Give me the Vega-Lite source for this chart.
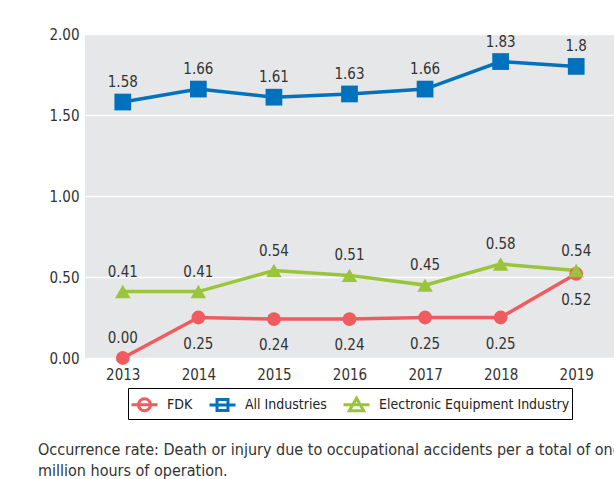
{
  "$schema": "https://vega.github.io/schema/vega-lite/v6.json",
  "width": 529,
  "height": 324,
  "autosize": "none",
  "padding": {"left": 85, "top": 34, "right": 0, "bottom": 121},
  "background": "white",
  "config": {
    "font": "'Liberation Sans Narrow', 'DejaVu Sans Condensed', 'Liberation Sans', sans-serif",
    "view": {"fill": "#e6e7e8", "stroke": null},
    "axis": {"labelFont": "'Liberation Sans Narrow', 'DejaVu Sans Condensed', 'Liberation Sans', sans-serif", "labelColor": "#333333", "title": null, "domain": false, "ticks": false}
  },
  "title": {
    "text": ["Occurrence rate: Death or injury due to occupational accidents per a total of one", "million hours of operation."],
    "orient": "bottom",
    "anchor": "start",
    "frame": "group",
    "dx": -47,
    "offset": 22,
    "font": "'Liberation Sans Narrow', 'DejaVu Sans Condensed', 'Liberation Sans', sans-serif",
    "fontSize": 16,
    "fontWeight": "normal",
    "color": "#333333",
    "lineHeight": 21
  },
  "data": {
    "values": [
      {"year": "2013", "series": "FDK", "value": 0.00, "label": "0.00"},
      {"year": "2014", "series": "FDK", "value": 0.25, "label": "0.25"},
      {"year": "2015", "series": "FDK", "value": 0.24, "label": "0.24"},
      {"year": "2016", "series": "FDK", "value": 0.24, "label": "0.24"},
      {"year": "2017", "series": "FDK", "value": 0.25, "label": "0.25"},
      {"year": "2018", "series": "FDK", "value": 0.25, "label": "0.25"},
      {"year": "2019", "series": "FDK", "value": 0.52, "label": "0.52"},
      {"year": "2013", "series": "All Industries", "value": 1.58, "label": "1.58"},
      {"year": "2014", "series": "All Industries", "value": 1.66, "label": "1.66"},
      {"year": "2015", "series": "All Industries", "value": 1.61, "label": "1.61"},
      {"year": "2016", "series": "All Industries", "value": 1.63, "label": "1.63"},
      {"year": "2017", "series": "All Industries", "value": 1.66, "label": "1.66"},
      {"year": "2018", "series": "All Industries", "value": 1.83, "label": "1.83"},
      {"year": "2019", "series": "All Industries", "value": 1.80, "label": "1.8"},
      {"year": "2013", "series": "Electronic Equipment Industry", "value": 0.41, "label": "0.41"},
      {"year": "2014", "series": "Electronic Equipment Industry", "value": 0.41, "label": "0.41"},
      {"year": "2015", "series": "Electronic Equipment Industry", "value": 0.54, "label": "0.54"},
      {"year": "2016", "series": "Electronic Equipment Industry", "value": 0.51, "label": "0.51"},
      {"year": "2017", "series": "Electronic Equipment Industry", "value": 0.45, "label": "0.45"},
      {"year": "2018", "series": "Electronic Equipment Industry", "value": 0.58, "label": "0.58"},
      {"year": "2019", "series": "Electronic Equipment Industry", "value": 0.54, "label": "0.54"}
    ]
  },
  "encoding": {
    "x": {
      "field": "year", "type": "ordinal",
      "scale": {"type": "point", "padding": 0.5},
      "axis": {"labelAngle": 0, "labelFontSize": 15, "labelPadding": 9, "grid": false}
    },
    "y": {
      "field": "value", "type": "quantitative",
      "scale": {"domain": [0, 2], "nice": false, "zero": true},
      "axis": {"values": [0, 0.5, 1, 1.5, 2], "format": ".2f", "labelFontSize": 15, "labelPadding": 6, "grid": true, "gridColor": "#ffffff", "gridWidth": 1.5}
    }
  },
  "layer": [
    {
      "mark": {"type": "line", "strokeWidth": 3.5},
      "encoding": {
        "color": {
          "field": "series", "type": "nominal",
          "scale": {"domain": ["FDK", "All Industries", "Electronic Equipment Industry"], "range": ["#ef5b5f", "#0071bc", "#9ac43a"]}
        }
      }
    },
    {
      "mark": {"type": "point", "filled": true, "opacity": 0},
      "encoding": {
        "color": {
          "field": "series", "type": "nominal",
          "scale": {"domain": ["FDK", "All Industries", "Electronic Equipment Industry"], "range": ["#ef5b5f", "#0071bc", "#9ac43a"]},
          "legend": {
            "orient": "none", "legendX": 43, "legendY": 354, "direction": "horizontal", "title": null,
            "strokeColor": "#000000", "padding": 2,
            "symbolSize": 676, "symbolStrokeWidth": 3, "symbolOpacity": 1,
            "labelFont": "'Liberation Sans Narrow', 'DejaVu Sans Condensed', 'Liberation Sans', sans-serif", "labelFontSize": 14, "labelColor": "#222222",
            "labelOffset": 8, "columnPadding": 10, "labelLimit": 400
          }
        },
        "shape": {
          "field": "series", "type": "nominal",
          "scale": {"domain": ["FDK", "All Industries", "Electronic Equipment Industry"], "range": ["M-1,0L1,0M-0.46,0A0.46,0.46,0,1,0,0.46,0A0.46,0.46,0,1,0,-0.46,0Z", "M-1,0L1,0M-0.42,-0.42L0.42,-0.42L0.42,0.42L-0.42,0.42Z", "M-1,0L1,0M0,-0.5L0.55,0.45L-0.55,0.45Z"]}
        }
      }
    },
    {
      "transform": [{"filter": "datum.series === 'FDK'"}],
      "mark": {"type": "point", "filled": true, "opacity": 1, "shape": "circle", "size": 190, "color": "#ef5b5f"},
      "encoding": {}
    },
    {
      "transform": [{"filter": "datum.series === 'All Industries'"}],
      "mark": {"type": "point", "filled": true, "opacity": 1, "shape": "square", "size": 280, "color": "#0071bc"},
      "encoding": {}
    },
    {
      "transform": [{"filter": "datum.series === 'Electronic Equipment Industry'"}],
      "mark": {"type": "point", "filled": true, "opacity": 1, "shape": "triangle-up", "size": 240, "color": "#9ac43a"},
      "encoding": {}
    },
    {
      "transform": [{"filter": "datum.series !== 'FDK' || datum.year === '2013'"}],
      "mark": {"type": "text", "dy": -15, "baseline": "alphabetic", "fontSize": 15, "color": "#333333", "font": "'Liberation Sans Narrow', 'DejaVu Sans Condensed', 'Liberation Sans', sans-serif"},
      "encoding": {"text": {"field": "label"}}
    },
    {
      "transform": [{"filter": "datum.series === 'FDK' && datum.year !== '2013'"}],
      "mark": {"type": "text", "dy": 31, "baseline": "alphabetic", "fontSize": 15, "color": "#333333", "font": "'Liberation Sans Narrow', 'DejaVu Sans Condensed', 'Liberation Sans', sans-serif"},
      "encoding": {"text": {"field": "label"}}
    }
  ]
}
